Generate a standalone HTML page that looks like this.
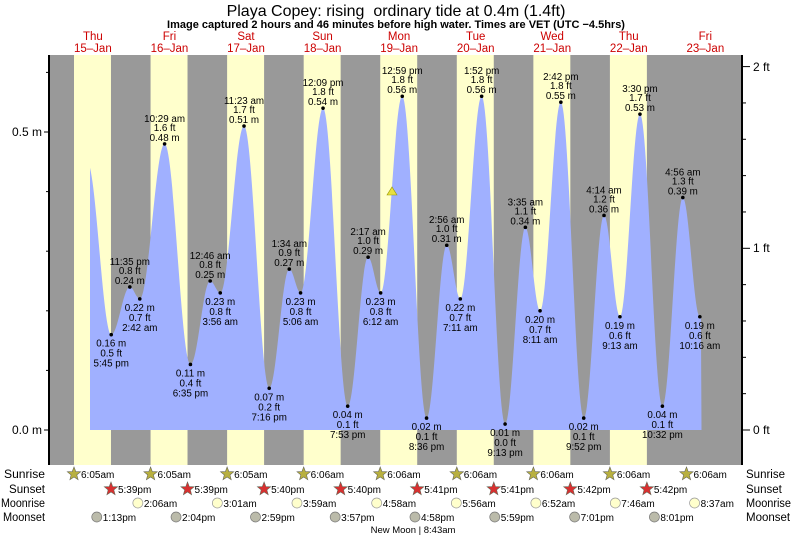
<!DOCTYPE html>
<html><head><meta charset="utf-8"><style>
body{margin:0;background:#fff;}
svg{display:block;font-family:"Liberation Sans",sans-serif;}
</style></head><body>
<svg id="s" width="793" height="537" xmlns="http://www.w3.org/2000/svg">
<text x="396" y="16" font-size="16" text-anchor="middle" fill="#000">Playa Copey: rising&#160; ordinary tide at 0.4m (1.4ft)</text>
<text x="396" y="28" font-size="11" font-weight="bold" text-anchor="middle" fill="#000">Image captured 2 hours and 46 minutes before high water. Times are VET (UTC −4.5hrs)</text>
<g id="bg"></g>
<path id="tide" fill="#a0b0ff" d=""/>
<g id="lab" font-size="9.8" fill="#000" text-anchor="middle"></g>
<polygon points="387,195 397,195 392,187" fill="#e8e040" stroke="#999900" stroke-width="0.6"/>
<line x1="49" y1="55" x2="49" y2="465" stroke="#000" stroke-width="2"/>
<line x1="742" y1="55" x2="742" y2="465" stroke="#000" stroke-width="2"/>
<g id="ax" stroke="#000" stroke-width="1"></g>
<g font-size="12" fill="#000">
<text x="42" y="136" text-anchor="end">0.5 m</text>
<text x="42" y="434" text-anchor="end">0.0 m</text>
<text x="753" y="71">2 ft</text>
<text x="753" y="252">1 ft</text>
<text x="753" y="434">0 ft</text>
</g>
<g font-size="11.5" fill="#000">
<text x="4" y="478" textLength="41" lengthAdjust="spacingAndGlyphs">Sunrise</text><text x="9" y="493" textLength="36" lengthAdjust="spacingAndGlyphs">Sunset</text><text x="1" y="507" textLength="44" lengthAdjust="spacingAndGlyphs">Moonrise</text><text x="3" y="521" textLength="42" lengthAdjust="spacingAndGlyphs">Moonset</text>
</g>
<g font-size="11.5" fill="#000">
<text x="746" y="478">Sunrise</text><text x="746" y="493">Sunset</text><text x="746" y="507" textLength="45" lengthAdjust="spacingAndGlyphs">Moonrise</text><text x="746" y="521">Moonset</text>
</g>
<g id="ev" font-size="10" fill="#000"></g>
<text x="413" y="533" font-size="9.5" text-anchor="middle" fill="#000">New Moon | 8:43am</text>
</svg>
<script>
var NS="http://www.w3.org/2000/svg";
function X(t){return 54.6+t*3.19;}
function Y(h){return 430-h*596;}
function el(p,n,a,txt){var e=document.createElementNS(NS,n);for(var k in a)e.setAttribute(k,a[k]);if(txt!=null)e.textContent=txt;document.getElementById(p).appendChild(e);return e;}
el("bg","rect",{x:50,y:55,width:692,height:410,fill:"#999999"});
for(var d=0;d<8;d++){var a=X(24*d+6.08),b=X(24*d+17.67);el("bg","rect",{x:a,y:55,width:b-a,height:410,fill:"#ffffcc"});}
var days=[["Thu","15–Jan"],["Fri","16–Jan"],["Sat","17–Jan"],["Sun","18–Jan"],["Mon","19–Jan"],["Tue","20–Jan"],["Wed","21–Jan"],["Thu","22–Jan"],["Fri","23–Jan"]];
days.forEach(function(dd,i){var x=X(24*i+12);el("bg","text",{x:x,y:40,"font-size":11.5,fill:"#cc0000","text-anchor":"middle"},dd[0]);el("bg","text",{x:x,y:52,"font-size":11.5,fill:"#cc0000","text-anchor":"middle"},dd[1]);});
var E=[
[17.75,.16,"0.16 m|0.5 ft|5:45 pm",0],[23.58,.24,"11:35 pm|0.8 ft|0.24 m",1],[26.7,.22,"0.22 m|0.7 ft|2:42 am",0],
[34.48,.48,"10:29 am|1.6 ft|0.48 m",1],[42.58,.11,"0.11 m|0.4 ft|6:35 pm",0],[48.77,.25,"12:46 am|0.8 ft|0.25 m",1],
[51.93,.23,"0.23 m|0.8 ft|3:56 am",0],[59.38,.51,"11:23 am|1.7 ft|0.51 m",1],[67.27,.07,"0.07 m|0.2 ft|7:16 pm",0],
[73.57,.27,"1:34 am|0.9 ft|0.27 m",1],[77.1,.23,"0.23 m|0.8 ft|5:06 am",0],[84.15,.54,"12:09 pm|1.8 ft|0.54 m",1],
[91.88,.04,"0.04 m|0.1 ft|7:53 pm",0],[98.28,.29,"2:17 am|1.0 ft|0.29 m",1],[102.2,.23,"0.23 m|0.8 ft|6:12 am",0],
[108.98,.56,"12:59 pm|1.8 ft|0.56 m",1],[116.6,.02,"0.02 m|0.1 ft|8:36 pm",0],[122.93,.31,"2:56 am|1.0 ft|0.31 m",1],
[127.18,.22,"0.22 m|0.7 ft|7:11 am",0],[133.87,.56,"1:52 pm|1.8 ft|0.56 m",1],[141.22,.01,"0.01 m|0.0 ft|9:13 pm",0],
[147.58,.34,"3:35 am|1.1 ft|0.34 m",1],[152.18,.20,"0.20 m|0.7 ft|8:11 am",0],[158.7,.55,"2:42 pm|1.8 ft|0.55 m",1],
[165.87,.02,"0.02 m|0.1 ft|9:52 pm",0],[172.23,.36,"4:14 am|1.2 ft|0.36 m",1],[177.22,.19,"0.19 m|0.6 ft|9:13 am",0],
[183.5,.53,"3:30 pm|1.7 ft|0.53 m",1],[190.53,.04,"0.04 m|0.1 ft|10:32 pm",0],[196.93,.39,"4:56 am|1.3 ft|0.39 m",1],
[202.27,.19,"0.19 m|0.6 ft|10:16 am",0]];
var P=[[10.2,.45]].concat(E.map(function(e){return[e[0],e[1]];})).concat([[208.5,.47]]);
var t0=11.1,t1=202.8,d="M"+X(t0)+",430";
for(var t=t0;t<=t1+1e-6;t+=0.25){
 for(var i=0;i<P.length-1;i++){if(t>=P[i][0]&&t<=P[i+1][0])break;}
 var p=P[i],q=P[i+1],f=(t-p[0])/(q[0]-p[0]);var h=p[1]+(q[1]-p[1])*(1-Math.cos(Math.PI*f))/2;
 d+=" L"+X(t).toFixed(1)+","+Y(h).toFixed(1);}
d+=" L"+X(t1).toFixed(1)+",430 Z";
document.getElementById("tide").setAttribute("d",d);
E.forEach(function(e){var x=X(e[0]),y=Y(e[1]);el("lab","circle",{cx:x,cy:y,r:1.8,fill:"#000"});
 var L=e[2].split("|");
 if(e[3]){el("lab","text",{x:x,y:y-22},L[0]);el("lab","text",{x:x,y:y-13},L[1]);el("lab","text",{x:x,y:y-3},L[2]);}
 else{el("lab","text",{x:x,y:y+12},L[0]);el("lab","text",{x:x,y:y+22},L[1]);el("lab","text",{x:x,y:y+32},L[2]);}});
for(var m=0;m<=0.6001;m+=0.1){var y=Y(m);var big=Math.abs(m-0.5)<.01||m<.01;el("ax","line",{x1:big?44:46,y1:y,x2:49,y2:y});}
for(var ft=0;ft<=2.0001;ft+=0.2){var y=430-ft*181.7;var big=Math.abs(ft-Math.round(ft))<.01;el("ax","line",{x1:742,y1:y,x2:big?750:746,y2:y});}
function star(x,y,c){var s="";for(var k=0;k<10;k++){var r=k%2?3:7,a=-Math.PI/2+k*Math.PI/5;s+=(x+r*Math.cos(a)).toFixed(1)+","+(y+r*Math.sin(a)).toFixed(1)+" ";}el("ev","polygon",{points:s,fill:c,stroke:"#665",'stroke-width':0.6});}
var sr=["6:05am","6:05am","6:05am","6:06am","6:06am","6:06am","6:06am","6:06am","6:06am"];
var ss=["5:39pm","5:39pm","5:40pm","5:40pm","5:41pm","5:41pm","5:42pm","5:42pm"];
var mr=[[26.1,"2:06am"],[51.02,"3:01am"],[75.98,"3:59am"],[100.97,"4:58am"],[125.93,"5:56am"],[150.87,"6:52am"],[175.77,"7:46am"],[200.62,"8:37am"]];
var ms=[[13.22,"1:13pm"],[38.07,"2:04pm"],[62.98,"2:59pm"],[87.95,"3:57pm"],[112.97,"4:58pm"],[137.98,"5:59pm"],[163.02,"7:01pm"],[188.02,"8:01pm"]];
sr.forEach(function(v,i){var x=X(24*i+6.08);star(x,474,"#b8b040");el("ev","text",{x:x+7,y:478},v);});
ss.forEach(function(v,i){var x=X(24*i+17.67);star(x,489,"#d83030");el("ev","text",{x:x+7,y:493},v);});
mr.forEach(function(v){var x=X(v[0]);el("ev","circle",{cx:x,cy:503,r:5,fill:"#ffffcc",stroke:"#999","stroke-width":0.7});el("ev","text",{x:x+6,y:507},v[1]);});
ms.forEach(function(v){var x=X(v[0]);el("ev","circle",{cx:x,cy:517,r:5,fill:"#bbbbaa",stroke:"#777","stroke-width":0.7});el("ev","text",{x:x+6,y:521},v[1]);});
</script>
</body></html>
